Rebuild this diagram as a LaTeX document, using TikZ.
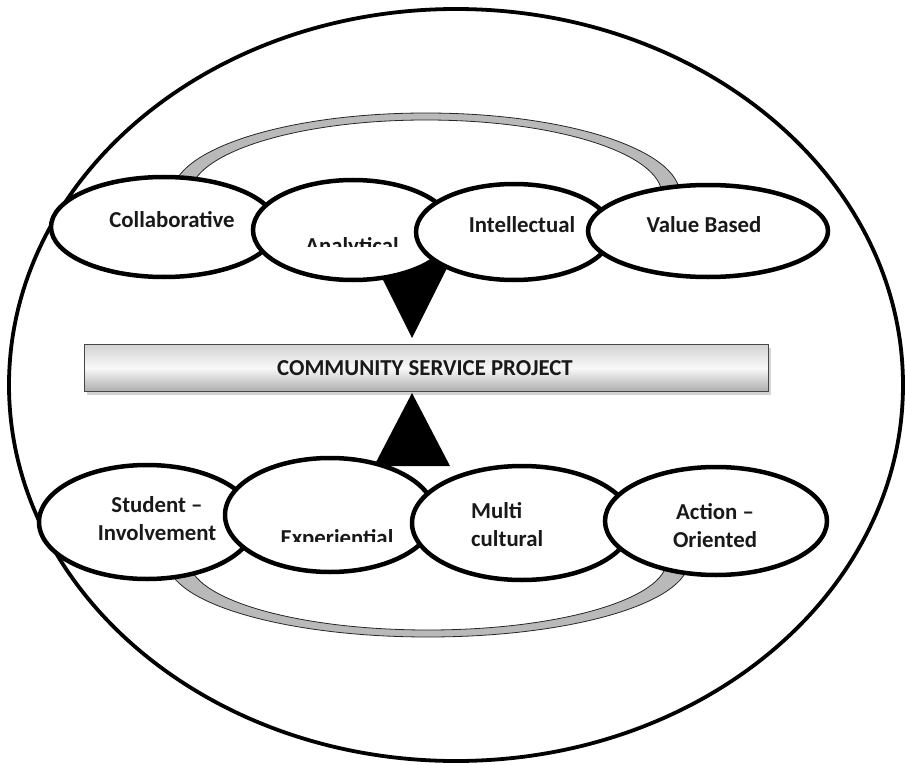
\documentclass[tikz,border=0pt]{standalone}
\usepackage{fontspec}
\setmainfont{Carlito}
\usetikzlibrary{shapes.geometric,shadows}

\begin{document}
\begin{tikzpicture}[x=1pt,y=-1pt,
  bubble/.style={ellipse, draw=black, line width=4.5pt, fill=white, inner sep=0pt},
  word/.style={font=\fontsize{22.8}{28}\selectfont\bfseries, text=black!90, inner sep=0pt, align=center},
  ring/.style={fill=gray!55, draw=gray!30!black, line width=0.8pt},
  pointer/.style={fill=black},
  barbox/.style={rectangle, draw=gray!55!black, line width=0.6pt,
    top color=gray!35, bottom color=gray!65, middle color=white!95!gray,
    minimum width=684pt, minimum height=47pt, inner sep=0pt,
    drop shadow={shadow xshift=3pt, shadow yshift=-3pt, opacity=0.35, fill=gray}}
]
\useasboundingbox (0,0) rectangle (905,765);

% outer boundary
\node[ellipse, draw=black, line width=3.8pt, inner sep=0pt,
      minimum width=894pt, minimum height=752pt] (outer) at (456,385) {};

% grey loop behind the upper row
\fill[ring] (172,195) arc[start angle=180, end angle=360, x radius=254, y radius=82]
  -- (662,195) arc[start angle=360, end angle=180, x radius=236, y radius=75] -- cycle;

% grey loop behind the lower row
\fill[ring] (167,560) arc[start angle=180, end angle=0, x radius=261, y radius=77]
  -- (667,560) arc[start angle=0, end angle=180, x radius=239, y radius=70] -- cycle;

% bar in the middle
\node[barbox] (project) at (426,368) {};

% pointers towards the bar
\coordinate (downtip) at (412,338);
\coordinate (uptip) at (412,393);
\fill[pointer] (374,262) -- (450,262) -- (downtip) -- cycle;
\fill[pointer] (374,466) -- (450,466) -- (uptip) -- cycle;

% upper row
\node[bubble, minimum width=226pt, minimum height=100pt] (collab) at (164,227) {};
\node[word] (collabtext) at (172,220) {Collaborative};

\node[bubble, minimum width=200pt, minimum height=100pt] (analyt) at (353,230) {};
\begin{scope}
  \clip (255,200) rectangle (455,246);
  \node[word, anchor=base] (analyttext) at (352,253) {Analytical};
\end{scope}

\node[bubble, minimum width=196pt, minimum height=96pt] (intel) at (514,232) {};
\node[word] (inteltext) at (522,225) {Intellectual};

\node[bubble, minimum width=240pt, minimum height=92pt] (value) at (708,231) {};
\node[word] (valuetext) at (704,225) {Value Based};

% bar caption
\node[word] (projecttext) at (425,368) {COMMUNITY SERVICE PROJECT};

% lower row
\node[bubble, minimum width=216pt, minimum height=114pt] (student) at (147,522) {};
\node[word] (studenttext) at (157,519) {Student –\\Involvement};

\node[bubble, minimum width=210pt, minimum height=114pt] (exper) at (330,515) {};
\begin{scope}
  \clip (230,480) rectangle (430,541);
  \node[word, anchor=base] (expertext) at (337,545) {Experiential};
\end{scope}

\node[bubble, minimum width=220pt, minimum height=114pt] (multi) at (522,523) {};
\node[word, align=left, anchor=west] (multitext) at (471,525) {Multi\\cultural};

\node[bubble, minimum width=222pt, minimum height=108pt] (action) at (716,521) {};
\node[word] (actiontext) at (715,526) {Action –\\Oriented};
\end{tikzpicture}
\end{document}
